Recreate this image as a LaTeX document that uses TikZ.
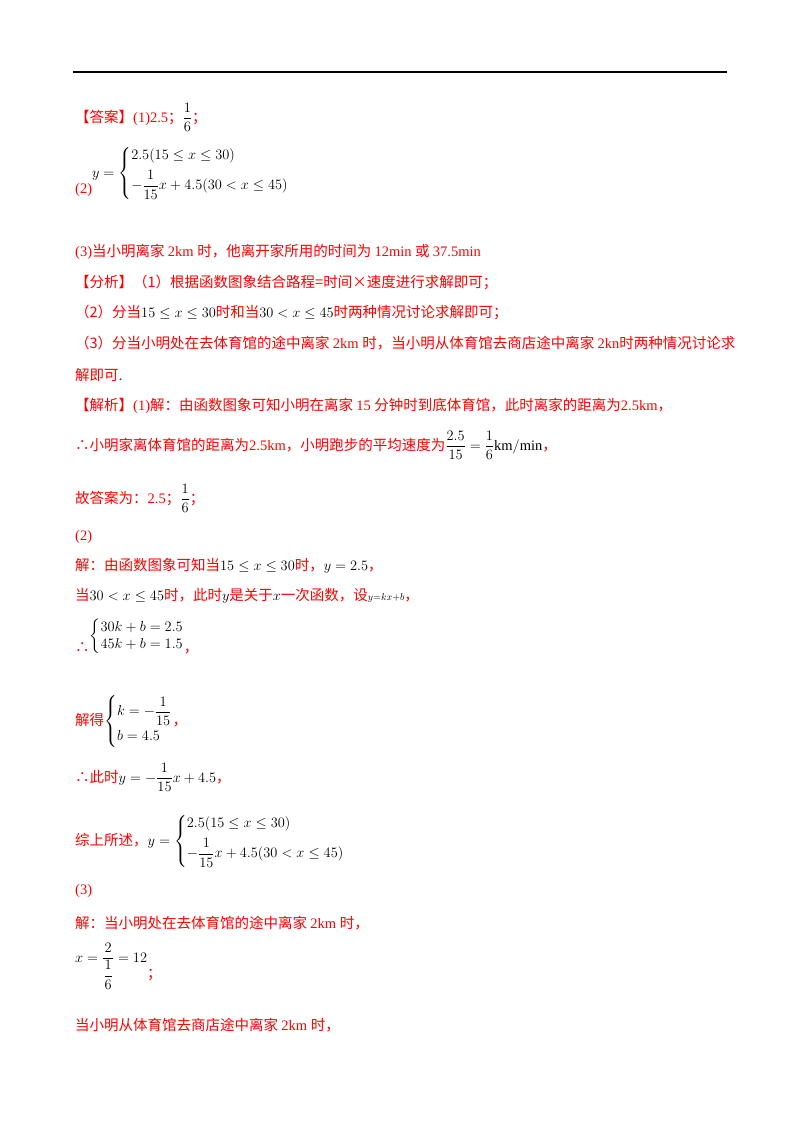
\documentclass[tikz,border=0pt]{standalone}
\usepackage{amsmath}
\usepackage{fontspec}
\setmainfont{Liberation Serif}
\newfontfamily\cjk{Noto Sans CJK SC}
\newcommand{\mm}[1]{{\color{black}$#1$}}
\begin{document}
\begin{tikzpicture}[x=1pt,y=-1pt,
  ln/.style={anchor=base west,inner sep=0pt,text=red,font=\fontsize{14.5}{17}\selectfont}]
\useasboundingbox (0,0) rectangle (800,1132);
\fill[white] (0,0) rectangle (800,1132);
\draw[line width=1.6pt] (73,72) -- (727,72);
\node[ln] (l1) at (75,122) {\cjk【答案】\rmfamily(1)2.5\cjk；\mm{\dfrac{1}{6}}\cjk；};
\node[ln] (l2) at (75,193) {(2)\raisebox{16pt}{\mm{y=\left\{\begin{array}{@{}l@{}}2.5(15\le x\le 30)\\[6pt] -\dfrac{1}{15}x+4.5(30<x\le 45)\end{array}\right.}}};
\node[ln] (l3) at (75,256) {(3)\cjk 当小明离家 \rmfamily 2km \cjk 时，他离开家所用的时间为 \rmfamily 12min \cjk 或 \rmfamily 37.5min};
\node[ln] (l4) at (75,287) {\cjk【分析】（1）根据函数图象结合路程=时间×速度进行求解即可；};
\node[ln] (l5) at (75,317) {\cjk（2）分当\mm{15\le x\le 30}时和当\mm{30<x\le 45}时两种情况讨论求解即可；};
\node[ln] (l6) at (75,348) {\cjk（3）分当小明处在去体育馆的途中离家 \rmfamily 2km \cjk 时，当小明从体育馆去商店途中离家 \rmfamily 2kn\cjk 时两种情况讨论求};
\node[ln] (l7) at (75,380) {\cjk 解即可.};
\node[ln] (l8) at (75,410) {\cjk【解析】\rmfamily(1)\cjk 解：由函数图象可知小明在离家 \rmfamily 15 \cjk 分钟时到底体育馆，此时离家的距离为\rmfamily 2.5km\cjk ，};
\node[ln] (l9) at (75,450) {\cjk ∴小明家离体育馆的距离为\rmfamily 2.5km\cjk ，小明跑步的平均速度为\mm{\dfrac{2.5}{15}=\dfrac{1}{6}\mathrm{km/min}}\cjk ，};
\node[ln] (l10) at (75,503) {\cjk 故答案为：\rmfamily 2.5\cjk；\mm{\dfrac{1}{6}}\cjk；};
\node[ln] (l11) at (75,540) {(2)};
\node[ln] (l12) at (75,570) {\cjk 解：由函数图象可知当\mm{15\le x\le 30}时，\mm{y=2.5}，};
\node[ln] (l13) at (75,600) {\cjk 当\mm{30<x\le 45}时，此时\mm{y}是关于\mm{x}一次函数，设\mm{\scriptstyle y=kx+b}，};
\node[ln] (l14) at (75,652) {\cjk ∴\raisebox{12pt}{\mm{\left\{\begin{array}{@{}l@{}}30k+b=2.5\\ 45k+b=1.5\end{array}\right.}}，};
\node[ln] (l15) at (75,725) {\cjk 解得\mm{\left\{\begin{array}{@{}l@{}}k=-\dfrac{1}{15}\\[8pt] b=4.5\end{array}\right.}，};
\node[ln] (l16) at (75,782) {\cjk ∴此时\mm{y=-\dfrac{1}{15}x+4.5}，};
\node[ln] (l17) at (75,845) {\cjk 综上所述，\mm{y=\left\{\begin{array}{@{}l@{}}2.5(15\le x\le 30)\\[6pt] -\dfrac{1}{15}x+4.5(30<x\le 45)\end{array}\right.}};
\node[ln] (l18) at (75,894) {(3)};
\node[ln] (l19) at (75,928) {\cjk 解：当小明处在去体育馆的途中离家 \rmfamily 2km \cjk 时，};
\node[ln] (l20) at (75,962) {\mm{x=\dfrac{2}{\dfrac{1}{6}}=12}\raisebox{-16pt}{\cjk ；}};
\node[ln] (l21) at (75,1030) {\cjk 当小明从体育馆去商店途中离家 \rmfamily 2km \cjk 时，};
\end{tikzpicture}
\end{document}
